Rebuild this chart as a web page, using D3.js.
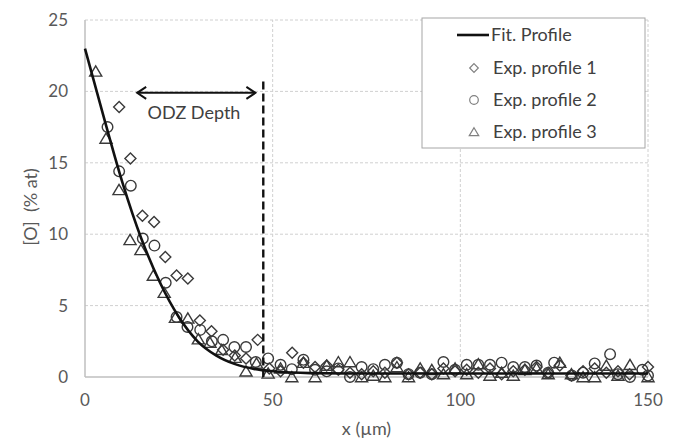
<!DOCTYPE html>
<html>
<head>
  <meta charset="utf-8">
  <script src="https://cdn.jsdelivr.net/npm/d3@7"></script>
  <style>
    body { margin: 0; background: #fff; }
    text { font-family: Lato, "Open Sans", sans-serif; fill: #404040; }
  </style>
</head>
<body>
  <svg id="chart" width="682" height="443"></svg>

  <script>
    // fitted profile
    var fitX = [0, 5, 10, 15, 20, 25, 30, 35, 40, 45, 50, 55, 60, 70, 80, 100, 150];
    var fitY = [23.0, 18.2, 13.6, 9.7, 6.6, 4.2, 2.5, 1.5, 0.9, 0.57, 0.4, 0.31, 0.27, 0.25, 0.25, 0.25, 0.25];

    // Exp. profile 1 (diamonds)
    var p1X = [9.1, 12.1, 15.3, 18.4, 21.4, 24.4, 27.4, 30.6, 33.7, 36.8, 39.9, 42.9, 46.0, 49.1, 52.1, 55.2, 58.2, 61.3, 64.4, 67.5, 70.6, 73.7, 76.8, 79.9, 83.1, 86.2, 89.3, 92.4, 95.5, 98.6, 101.7, 104.8, 107.9, 111.0, 114.1, 117.2, 120.3, 123.4, 126.5, 129.6, 132.7, 135.8, 138.9, 142.0, 145.1, 150.0];
    var p1Y = [18.9, 15.3, 11.3, 10.85, 8.4, 7.1, 6.9, 3.95, 3.2, 1.9, 1.5, 1.3, 2.6, 0.6, 0.4, 1.7, 1.0, 0.7, 0.8, 0.5, 0.3, 0.2, 0.4, 0.3, 1.0, 0.2, 0.3, 0.2, 0.6, 0.4, 0.5, 0.3, 0.6, 0.2, 0.4, 0.5, 0.7, 0.3, 0.8, 0.1, 0.4, 0.6, 0.3, 0.4, 0.2, 0.7];

    // Exp. profile 2 (circles)
    var p2X = [6.0, 9.1, 12.2, 15.4, 18.5, 21.5, 24.4, 27.3, 30.7, 33.8, 36.8, 39.8, 42.9, 45.5, 48.8, 52.1, 55.1, 58.2, 61.3, 64.4, 67.5, 70.6, 73.7, 76.8, 79.9, 83.1, 86.2, 89.3, 92.4, 95.5, 98.6, 101.7, 104.8, 107.9, 111.0, 114.1, 117.2, 120.3, 123.4, 125.0, 129.7, 132.7, 135.8, 139.9, 142.0, 145.2, 148.5, 150.0];
    var p2Y = [17.5, 14.4, 13.4, 9.7, 9.2, 6.6, 4.2, 3.5, 3.3, 2.5, 2.6, 2.1, 2.1, 1.05, 1.3, 0.85, 0.55, 1.2, 0.5, 0.4, 0.6, 0.0, 0.7, 0.55, 0.85, 1.0, 0.2, 0.3, 0.2, 1.05, 0.5, 0.85, 0.85, 0.85, 1.0, 0.7, 0.7, 0.8, 0.3, 1.0, 0.1, 0.3, 0.95, 1.6, 0.2, 0.0, 0.5, 0.1];

    // Exp. profile 3 (triangles)
    var p3X = [2.85, 5.6, 9.06, 12.0, 14.9, 18.2, 21.1, 24.1, 27.4, 30.2, 33.3, 36.4, 40.0, 42.9, 45.7, 48.8, 52.1, 55.1, 58.2, 61.3, 64.4, 67.5, 70.6, 73.7, 76.8, 79.9, 83.1, 86.2, 89.3, 92.4, 95.5, 98.6, 101.7, 104.8, 107.9, 111.0, 114.1, 117.2, 120.3, 123.4, 126.5, 129.6, 132.7, 135.8, 138.9, 142.0, 145.2, 150.0];
    var p3Y = [21.4, 16.7, 13.1, 9.6, 8.9, 7.1, 5.9, 4.15, 4.1, 2.65, 2.4, 1.9, 1.35, 0.4, 0.95, 0.25, 0.6, 0.0, 1.0, 0.0, 0.8, 1.05, 1.05, 0.0, 0.1, 0.0, 0.7, 0.0, 0.6, 0.5, 0.2, 0.6, 0.2, 0.9, 0.1, 0.3, 0.1, 0.5, 0.6, 0.2, 1.0, 0.2, 0.0, 0.0, 0.8, 0.1, 0.85, 0.0];

    var xTicks = [0, 50, 100, 150];
    var yTicks = [0, 5, 10, 15, 20, 25];
    var odzX = 47.5;          // ODZ depth marker
    var arrowX = [13.9, 45.4]; // double arrow extent
    var arrowY = 19.9;

    var svg = d3.select("#chart");

    var x = d3.scaleLinear().domain([0, 150]).range([85, 648]);
    var y = d3.scaleLinear().domain([0, 25]).range([377, 20]);

    // gridlines
    svg.append("g")
      .selectAll("line")
      .data(yTicks.filter(d => d > 0))
      .enter()
      .append("line")
      .attr("x1", x(0)).attr("x2", x(150))
      .attr("y1", d => y(d)).attr("y2", d => y(d))
      .attr("stroke", "#d0d0d0")
      .attr("stroke-dasharray", "3,2");

    svg.append("g")
      .selectAll("line")
      .data(xTicks.filter(d => d > 0))
      .enter()
      .append("line")
      .attr("x1", d => x(d)).attr("x2", d => x(d))
      .attr("y1", y(0)).attr("y2", y(25))
      .attr("stroke", "#d0d0d0")
      .attr("stroke-dasharray", "3,2");

    // axes lines
    svg.append("line")
      .attr("x1", x(0)).attr("x2", x(0)).attr("y1", y(0)).attr("y2", y(25))
      .attr("stroke", "#bfbfbf").attr("stroke-width", 1.5);
    svg.append("line")
      .attr("x1", x(0)).attr("x2", x(150)).attr("y1", y(0)).attr("y2", y(0))
      .attr("stroke", "#bfbfbf").attr("stroke-width", 1.5);

    // tick labels
    svg.append("g")
      .selectAll("text")
      .data(yTicks)
      .enter()
      .append("text")
      .attr("x", 68)
      .attr("y", d => y(d))
      .attr("dy", "0.35em")
      .attr("text-anchor", "end")
      .style("font-size", "17px")
      .style("fill", "#595959")
      .text(d => d);

    svg.append("g")
      .selectAll("text")
      .data(xTicks)
      .enter()
      .append("text")
      .attr("x", d => x(d))
      .attr("y", 406)
      .attr("text-anchor", "middle")
      .style("font-size", "17px")
      .style("fill", "#595959")
      .text(d => d);

    // axis titles
    svg.append("text")
      .attr("x", x(75))
      .attr("y", 435)
      .attr("text-anchor", "middle")
      .style("font-size", "18px")
      .style("fill", "#595959")
      .text("x (µm)");

    svg.append("text")
      .attr("transform", "translate(37,207) rotate(-90)")
      .attr("text-anchor", "middle")
      .style("font-size", "18px")
      .style("fill", "#595959")
      .style("white-space", "pre")
      .text("[O]  (% at)");

    // marker shapes
    function diamond(s) {
      return "M0," + (-s) + "L" + s + ",0L0," + s + "L" + (-s) + ",0Z";
    }
    function triangle(s) {
      return "M0," + (-s) + "L" + (s * 1.1) + "," + (s * 0.85) + "L" + (-s * 1.1) + "," + (s * 0.85) + "Z";
    }

    var markStroke = "#3a3a3a";

    // series
    function pts(xs, ys) {
      return xs.map((v, i) => ({ x: v, y: ys[i] }));
    }

    svg.append("g")
      .selectAll("path")
      .data(pts(p1X, p1Y))
      .enter()
      .append("path")
      .attr("transform", d => "translate(" + x(d.x) + "," + y(d.y) + ")")
      .attr("d", diamond(5.5))
      .attr("fill", "none")
      .attr("stroke", markStroke)
      .attr("stroke-width", 1.4);

    svg.append("g")
      .selectAll("circle")
      .data(pts(p2X, p2Y))
      .enter()
      .append("circle")
      .attr("cx", d => x(d.x))
      .attr("cy", d => y(d.y))
      .attr("r", 5.3)
      .attr("fill", "none")
      .attr("stroke", markStroke)
      .attr("stroke-width", 1.4);

    svg.append("g")
      .selectAll("path")
      .data(pts(p3X, p3Y))
      .enter()
      .append("path")
      .attr("transform", d => "translate(" + x(d.x) + "," + y(d.y) + ")")
      .attr("d", triangle(5.5))
      .attr("fill", "none")
      .attr("stroke", markStroke)
      .attr("stroke-width", 1.4);

    // fitted profile
    var line = d3.line()
      .x(d => x(d.x))
      .y(d => y(d.y))
      .curve(d3.curveMonotoneX);

    svg.append("path")
      .datum(pts(fitX, fitY))
      .attr("d", line)
      .attr("fill", "none")
      .attr("stroke", "#111")
      .attr("stroke-width", 2.6);

    // ODZ depth annotation
    svg.append("line")
      .attr("x1", x(odzX)).attr("x2", x(odzX))
      .attr("y1", y(20.7)).attr("y2", y(0))
      .attr("stroke", "#111")
      .attr("stroke-width", 2.4)
      .attr("stroke-dasharray", "8,4");

    var ay = y(arrowY), ax0 = x(arrowX[0]), ax1 = x(arrowX[1]);
    svg.append("line")
      .attr("x1", ax0).attr("x2", ax1).attr("y1", ay).attr("y2", ay)
      .attr("stroke", "#111").attr("stroke-width", 2);
    svg.append("path")
      .attr("d", "M" + (ax0 + 9) + "," + (ay - 6) + "L" + ax0 + "," + ay + "L" + (ax0 + 9) + "," + (ay + 6))
      .attr("fill", "none").attr("stroke", "#111").attr("stroke-width", 2);
    svg.append("path")
      .attr("d", "M" + (ax1 - 9) + "," + (ay - 6) + "L" + ax1 + "," + ay + "L" + (ax1 - 9) + "," + (ay + 6))
      .attr("fill", "none").attr("stroke", "#111").attr("stroke-width", 2);

    svg.append("text")
      .attr("x", 194)
      .attr("y", 119)
      .attr("text-anchor", "middle")
      .style("font-size", "18px")
      .text("ODZ Depth");

    // legend
    var legend = svg.append("g");
    legend.append("rect")
      .attr("x", 422).attr("y", 18)
      .attr("width", 223).attr("height", 130)
      .attr("fill", "#fff")
      .attr("stroke", "#a6a6a6");

    var legendNames = ["Fit. Profile", "Exp. profile 1", "Exp. profile 2", "Exp. profile 3"];
    var legendY = [35, 68, 100, 132];

    legend.append("line")
      .attr("x1", 457).attr("x2", 489).attr("y1", legendY[0]).attr("y2", legendY[0])
      .attr("stroke", "#111").attr("stroke-width", 2.6);
    legend.append("path")
      .attr("transform", "translate(474," + legendY[1] + ")")
      .attr("d", diamond(4.3))
      .attr("fill", "none").attr("stroke", "#808080").attr("stroke-width", 1.2);
    legend.append("circle")
      .attr("cx", 474).attr("cy", legendY[2]).attr("r", 4.3)
      .attr("fill", "none").attr("stroke", "#808080").attr("stroke-width", 1.2);
    legend.append("path")
      .attr("transform", "translate(474," + legendY[3] + ")")
      .attr("d", triangle(4.3))
      .attr("fill", "none").attr("stroke", "#808080").attr("stroke-width", 1.2);

    legend.selectAll("text")
      .data(legendNames)
      .enter()
      .append("text")
      .attr("x", (d, i) => i === 0 ? 491 : 493)
      .attr("y", (d, i) => legendY[i])
      .attr("dy", "0.35em")
      .style("font-size", "18px")
      .text(d => d);
  </script>
</body>
</html>
